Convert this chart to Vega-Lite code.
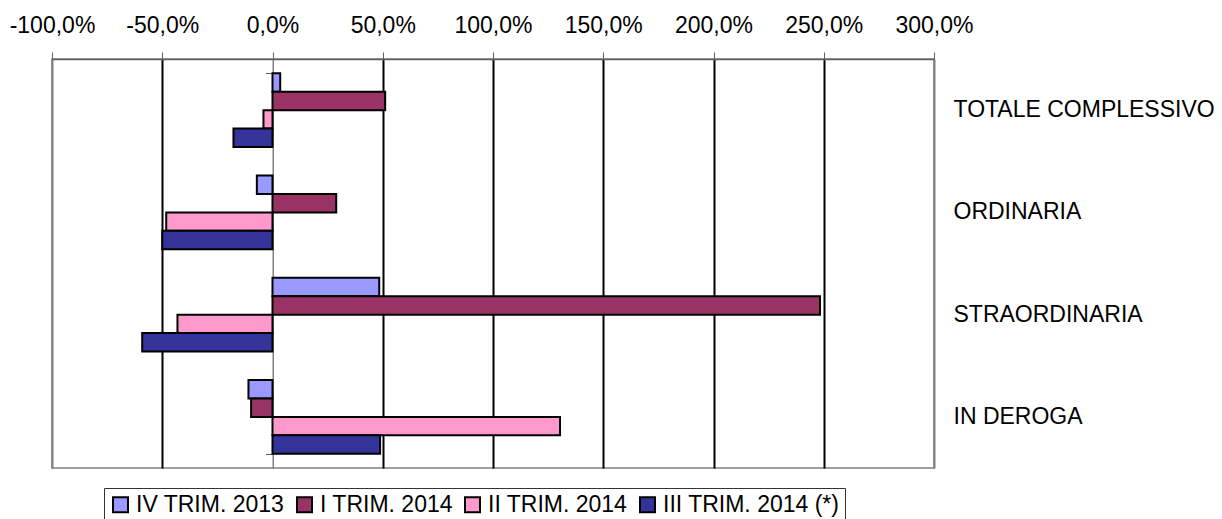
{
  "$schema": "https://vega.github.io/schema/vega-lite/v6.json",
  "autosize": {"type": "none"},
  "padding": {"left": 52, "top": 59, "right": 288, "bottom": 51},
  "width": 882,
  "height": 409,
  "config": {
    "font": "Liberation Sans",
    "view": {"stroke": "#808080", "strokeWidth": 1.5},
    "background": "white"
  },
  "data": {
    "values": [
      {"categoria": "TOTALE COMPLESSIVO", "periodo": "IV TRIM. 2013", "var": 3.5},
      {"categoria": "TOTALE COMPLESSIVO", "periodo": "I TRIM. 2014", "var": 51.1},
      {"categoria": "TOTALE COMPLESSIVO", "periodo": "II TRIM. 2014", "var": -4.1},
      {"categoria": "TOTALE COMPLESSIVO", "periodo": "III TRIM. 2014 (*)", "var": -17.7},
      {"categoria": "ORDINARIA", "periodo": "IV TRIM. 2013", "var": -7.1},
      {"categoria": "ORDINARIA", "periodo": "I TRIM. 2014", "var": 28.9},
      {"categoria": "ORDINARIA", "periodo": "II TRIM. 2014", "var": -48.2},
      {"categoria": "ORDINARIA", "periodo": "III TRIM. 2014 (*)", "var": -50.0},
      {"categoria": "STRAORDINARIA", "periodo": "IV TRIM. 2013", "var": 48.4},
      {"categoria": "STRAORDINARIA", "periodo": "I TRIM. 2014", "var": 248.3},
      {"categoria": "STRAORDINARIA", "periodo": "II TRIM. 2014", "var": -43.1},
      {"categoria": "STRAORDINARIA", "periodo": "III TRIM. 2014 (*)", "var": -59.1},
      {"categoria": "IN DEROGA", "periodo": "IV TRIM. 2013", "var": -10.9},
      {"categoria": "IN DEROGA", "periodo": "I TRIM. 2014", "var": -9.7},
      {"categoria": "IN DEROGA", "periodo": "II TRIM. 2014", "var": 130.4},
      {"categoria": "IN DEROGA", "periodo": "III TRIM. 2014 (*)", "var": 48.8}
    ]
  },
  "resolve": {"axis": {"y": "independent"}},
  "layer": [
    {
      "mark": {"type": "bar", "stroke": "black", "strokeWidth": 2},
      "encoding": {
        "y": {
          "field": "categoria",
          "type": "nominal",
          "sort": ["TOTALE COMPLESSIVO", "ORDINARIA", "STRAORDINARIA", "IN DEROGA"],
          "scale": {"paddingInner": 0.28, "paddingOuter": 0.14},
          "axis": {
            "orient": "right",
            "title": null,
            "domain": false,
            "ticks": false,
            "grid": false,
            "labelPadding": 19,
            "labelFontSize": 23,
            "labelLimit": 0,
            "labelColor": "black",
            "labelFont": "Liberation Sans"
          }
        },
        "yOffset": {
          "field": "periodo",
          "type": "nominal",
          "sort": ["IV TRIM. 2013", "I TRIM. 2014", "II TRIM. 2014", "III TRIM. 2014 (*)"],
          "scale": {"paddingInner": 0, "paddingOuter": 0}
        },
        "x": {
          "field": "var",
          "type": "quantitative",
          "scale": {"domain": [-100, 300], "nice": false, "zero": true},
          "axis": {
            "orient": "top",
            "title": null,
            "values": [-100, -50, 0, 50, 100, 150, 200, 250, 300],
            "labelExpr": "(datum.value < 0 ? '-' : '') + replace(format(abs(datum.value), '.1f'), '.', ',') + '%'",
            "labelFontSize": 23,
            "labelColor": "black",
            "labelFont": "Liberation Sans",
            "labelPadding": 15,
            "labelFlush": false,
            "tickSize": 7,
            "tickColor": "#606060",
            "tickWidth": 1,
            "domainColor": "#606060",
            "domainWidth": 1.5,
            "grid": true,
            "gridColor": {
              "condition": {"test": "datum.value === 0 || datum.value === -100 || datum.value === 300", "value": "#808080"},
              "value": "black"
            },
            "gridWidth": {
              "condition": {"test": "datum.value === 0", "value": 1},
              "value": 2
            },
            "gridOpacity": 1
          }
        },
        "color": {
          "field": "periodo",
          "type": "nominal",
          "sort": ["IV TRIM. 2013", "I TRIM. 2014", "II TRIM. 2014", "III TRIM. 2014 (*)"],
          "scale": {
            "domain": ["IV TRIM. 2013", "I TRIM. 2014", "II TRIM. 2014", "III TRIM. 2014 (*)"],
            "range": ["#9999FF", "#993366", "#FF99CC", "#333399"]
          },
          "legend": {
            "orient": "none",
            "legendX": 52,
            "legendY": 429,
            "direction": "horizontal",
            "title": null,
            "strokeColor": "#333333",
            "padding": 5,
            "symbolType": "square",
            "symbolSize": 225,
            "symbolStrokeColor": "black",
            "symbolStrokeWidth": 2,
            "symbolOpacity": 1,
            "labelFontSize": 23,
            "labelLimit": 0,
            "labelColor": "black",
            "labelFont": "Liberation Sans",
            "labelOffset": 4,
            "columnPadding": 8
          }
        }
      }
    },
    {
      "mark": {"type": "tick", "opacity": 0},
      "encoding": {
        "y": {
          "field": "categoria",
          "type": "nominal",
          "sort": ["TOTALE COMPLESSIVO", "ORDINARIA", "STRAORDINARIA", "IN DEROGA"],
          "axis": {
            "orient": "left",
            "offset": -220.5,
            "title": null,
            "labels": false,
            "grid": false,
            "tickBand": "extent",
            "tickSize": 7,
            "tickColor": "#606060",
            "domainColor": "#808080",
            "domainWidth": 1
          }
        },
        "x": {"field": "var", "type": "quantitative"}
      }
    }
  ]
}
